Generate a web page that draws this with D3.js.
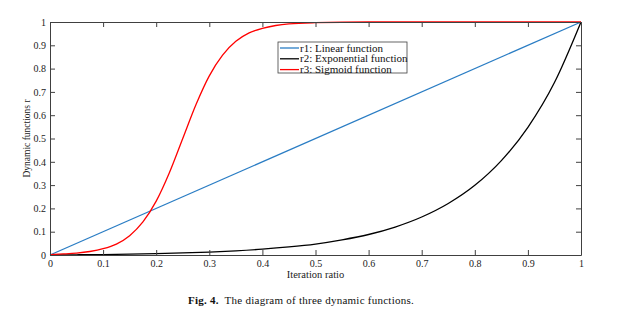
<!DOCTYPE html>
<html>
<head>
<meta charset="utf-8">
<script src="https://cdn.jsdelivr.net/npm/d3@7"></script>
<style>
  body { margin: 0; background: #fff; }
  svg { display: block; font-family: "Liberation Serif", "Times New Roman", serif; }
</style>
</head>
<body>
<svg width="617" height="316"></svg>
<script>
// values
var r1X = [0, 1]
var r1Y = [0, 1]

var r2X = [0, 0.05, 0.1, 0.15, 0.2, 0.25, 0.3, 0.35, 0.4, 0.45, 0.5, 0.55, 0.6, 0.65, 0.7, 0.75, 0.8, 0.85, 0.9, 0.95, 1]
var r2Y = [0, 0.0009, 0.002, 0.0036, 0.0058, 0.0087, 0.0125, 0.0178, 0.025, 0.0345, 0.047, 0.065, 0.088, 0.12, 0.163, 0.221, 0.299, 0.405, 0.548, 0.74, 1]

var r3X = [0, 0.025, 0.05, 0.075, 0.1, 0.125, 0.15, 0.175, 0.2, 0.225, 0.25, 0.275, 0.3, 0.325, 0.35, 0.375, 0.4, 0.425, 0.45, 0.5, 0.6, 0.8, 1]
var r3Y = [0.002, 0.0045, 0.008, 0.015, 0.027, 0.047, 0.083, 0.142, 0.231, 0.354, 0.5, 0.646, 0.769, 0.858, 0.917, 0.953, 0.973, 0.985, 0.992, 0.997, 1, 1, 1]

var series = [
  { name: "r1: Linear function", xs: r1X, ys: r1Y, color: "#2a7dc4" },
  { name: "r2: Exponential function", xs: r2X, ys: r2Y, color: "#000000" },
  { name: "r3: Sigmoid function", xs: r3X, ys: r3Y, color: "#ff0000" }
]

var ticks = [0, 0.1, 0.2, 0.3, 0.4, 0.5, 0.6, 0.7, 0.8, 0.9, 1]

var svg = d3.select("svg")
var plotL = 50, plotR = 581, plotT = 22, plotB = 255
var axisColor = "#404040"

var x = d3.scaleLinear().domain([0, 1]).range([plotL, plotR])
var y = d3.scaleLinear().domain([0, 1]).range([plotB, plotT])

var fmt = function (d) { return d === 0 ? "0" : d === 1 ? "1" : d3.format(".1f")(d) }

// curves first so axes sit on top like the original
var line = d3.line()
  .x(function (d) { return x(d[0]) })
  .y(function (d) { return y(d[1]) })
  .curve(d3.curveMonotoneX)

series.forEach(function (s) {
  var pts = s.xs.map(function (v, i) { return [v, s.ys[i]] })
  svg.append("path")
    .datum(pts)
    .attr("fill", "none")
    .attr("stroke", s.color)
    .attr("stroke-width", 1.3)
    .attr("d", line)
})

function styleAxis(g, showLabels) {
  g.selectAll(".domain").attr("stroke", axisColor)
  g.selectAll(".tick line").attr("stroke", axisColor)
  g.selectAll(".tick text")
    .attr("fill", "#222")
    .style("font-size", "10px")
    .style("font-family", "Liberation Serif, serif")
  if (!showLabels) g.selectAll(".tick text").remove()
}

svg.append("g")
  .attr("transform", "translate(0," + plotB + ")")
  .call(d3.axisBottom(x).tickValues(ticks).tickFormat(fmt).tickSizeInner(-5).tickSizeOuter(0).tickPadding(5))
  .call(styleAxis, true)

svg.append("g")
  .attr("transform", "translate(0," + plotT + ")")
  .call(d3.axisTop(x).tickValues(ticks).tickSizeInner(-5).tickSizeOuter(0))
  .call(styleAxis, false)

svg.append("g")
  .attr("transform", "translate(" + plotL + ",0)")
  .call(d3.axisLeft(y).tickValues(ticks).tickFormat(fmt).tickSizeInner(-5).tickSizeOuter(0).tickPadding(4))
  .call(styleAxis, true)

svg.append("g")
  .attr("transform", "translate(" + plotR + ",0)")
  .call(d3.axisRight(y).tickValues(ticks).tickSizeInner(-5).tickSizeOuter(0))
  .call(styleAxis, false)

// axis titles
svg.append("text")
  .attr("x", (plotL + plotR) / 2)
  .attr("y", 278)
  .attr("text-anchor", "middle")
  .style("font-size", "10.5px")
  .attr("fill", "#222")
  .text("Iteration ratio")

svg.append("text")
  .attr("transform", "translate(30," + (plotT + plotB) / 2 + ") rotate(-90)")
  .attr("text-anchor", "middle")
  .style("font-size", "9.5px")
  .attr("fill", "#222")
  .text("Dynamic functions r")

// legend
var lg = svg.append("g").attr("transform", "translate(278,42)")
lg.append("rect")
  .attr("width", 129).attr("height", 31)
  .attr("fill", "#fff")
  .attr("stroke", axisColor)
  .attr("stroke-width", 0.8)

series.forEach(function (s, i) {
  var yy = 6 + i * 10.8
  lg.append("line")
    .attr("x1", 2).attr("x2", 21)
    .attr("y1", yy).attr("y2", yy)
    .attr("stroke", s.color)
    .attr("stroke-width", 1.3)
  lg.append("text")
    .attr("x", 22).attr("y", yy + 3.5)
    .style("font-size", "11px")
    .attr("fill", "#111")
    .text(s.name)
})

// caption
var cap = svg.append("text")
  .attr("x", 301)
  .attr("y", 304)
  .attr("text-anchor", "middle")
  .style("font-size", "11px")
  .style("letter-spacing", "0.25px")
  .style("white-space", "pre")
  .attr("fill", "#111")
cap.append("tspan").style("font-weight", "bold").text("Fig. 4.")
cap.append("tspan").text("  The diagram of three dynamic functions.")
</script>
</body>
</html>
